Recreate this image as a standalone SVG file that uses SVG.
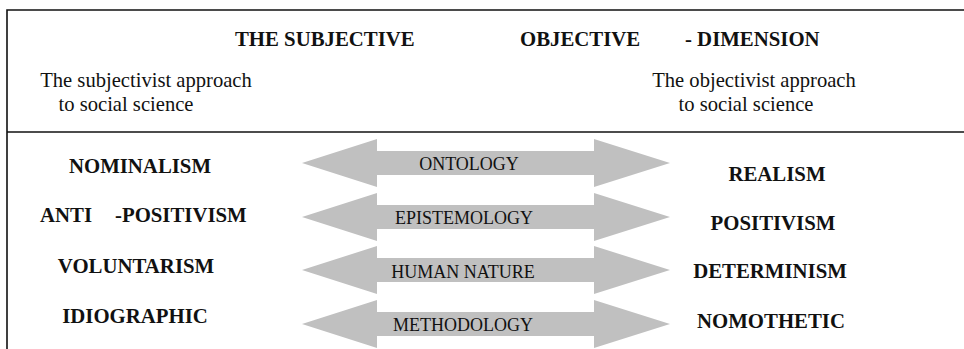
<svg xmlns="http://www.w3.org/2000/svg" xmlns:xlink="http://www.w3.org/1999/xlink" width="964" height="349" viewBox="0 0 964 349">
  <style>
    .frame { stroke: #111; stroke-width: 1.6; fill: none; }
    .head { font-family: "Liberation Serif", "Times New Roman", serif; font-weight: bold; font-size: 20.8px; fill: #111; }
    .sub { font-family: "Liberation Serif", "Times New Roman", serif; font-size: 20.6px; fill: #111; text-anchor: middle; }
    .term { font-family: "Liberation Serif", "Times New Roman", serif; font-weight: bold; font-size: 20.8px; fill: #111; text-anchor: middle; }
    .term.start { text-anchor: start; }
    .dim { font-family: "Liberation Serif", "Times New Roman", serif; font-size: 18px; fill: #111; text-anchor: middle; }
    .arrow { fill: #c0c0c0; }
  </style>
  <defs>
    <!-- double-headed block arrow centred on y=0 -->
    <path id="dbl" d="M302,0 L377,-24 L377,-12 L594,-12 L594,-24 L670,0 L594,24 L594,12 L377,12 L377,24 Z"/>
  </defs>
  <rect width="964" height="349" fill="#fff"/>

  <!-- frame: top rule, left rule, divider under the headings -->
  <g id="frame" class="frame">
    <path d="M7,349 L7,10 L964,10"/>
    <path d="M7,132 L964,132"/>
  </g>

  <g id="title">
    <text class="head" x="235" y="46">THE SUBJECTIVE</text>
    <text class="head" x="520" y="46">OBJECTIVE</text>
    <text class="head" x="685" y="46">- DIMENSION</text>
  </g>

  <g id="subjectivist">
    <text class="sub" x="146" y="87">The subjectivist approach</text>
    <text class="sub" x="126" y="111">to social science</text>
  </g>
  <g id="objectivist">
    <text class="sub" x="754" y="87">The objectivist approach</text>
    <text class="sub" x="746" y="111">to social science</text>
  </g>

  <!-- connecting arrows, one per dimension -->
  <g id="connectors" class="arrow">
    <use xlink:href="#dbl" transform="translate(0,163)"/>
    <use xlink:href="#dbl" transform="translate(0,217)"/>
    <use xlink:href="#dbl" transform="translate(0,270)"/>
    <use xlink:href="#dbl" transform="translate(0,324)"/>
  </g>

  <g id="ontology"><text class="dim" x="469" y="170">ONTOLOGY</text></g>
  <g id="epistemology"><text class="dim" x="464" y="224">EPISTEMOLOGY</text></g>
  <g id="human-nature"><text class="dim" x="463" y="278">HUMAN NATURE</text></g>
  <g id="methodology"><text class="dim" x="463" y="331">METHODOLOGY</text></g>

  <g id="nominalism"><text class="term" x="140" y="173">NOMINALISM</text></g>
  <g id="anti-positivism"><text class="term start" x="40" y="222">ANTI<tspan x="115">-POSITIVISM</tspan></text></g>
  <g id="voluntarism"><text class="term" x="136" y="273">VOLUNTARISM</text></g>
  <g id="idiographic"><text class="term" x="135" y="323">IDIOGRAPHIC</text></g>

  <g id="realism"><text class="term" x="777" y="181">REALISM</text></g>
  <g id="positivism"><text class="term" x="773" y="230">POSITIVISM</text></g>
  <g id="determinism"><text class="term" x="770" y="278">DETERMINISM</text></g>
  <g id="nomothetic"><text class="term" x="771" y="328">NOMOTHETIC</text></g>
</svg>
